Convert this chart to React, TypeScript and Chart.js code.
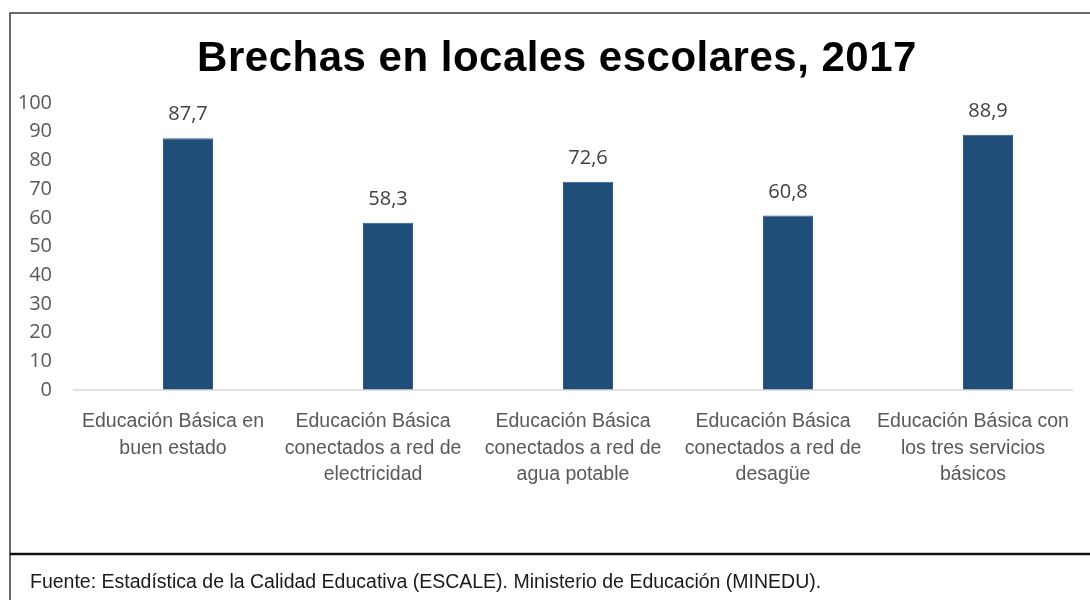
import React, { useEffect, useRef } from "react";
import { Chart, registerables } from "chart.js";

Chart.register(...registerables);

const TITLE = "Brechas en locales escolares, 2017";
const SOURCE = "Fuente: Estadística de la Calidad Educativa (ESCALE). Ministerio de Educación (MINEDU).";
const categories: string[][] = [
  ["Educación Básica en", "buen estado"],
  ["Educación Básica", "conectados a red de", "electricidad"],
  ["Educación Básica", "conectados a red de", "agua potable"],
  ["Educación Básica", "conectados a red de", "desagüe"],
  ["Educación Básica con", "los tres servicios", "básicos"],
];
const values: number[] = [87.7, 58.3, 72.6, 60.8, 88.9];
const yTicks = { min: 0, max: 100, step: 10 };

const BAR_COLOR = "#1F4E79";
const LABEL_SHIFT = 15;

const framePlugin = {
  id: "frame",
  beforeDraw(chart: any) {
    const ctx = chart.ctx;
    ctx.save();
    ctx.fillStyle = "#ffffff";
    ctx.fillRect(0, 0, chart.width, chart.height);
    ctx.restore();
  },
  afterDraw(chart: any) {
    const ctx = chart.ctx;
    const area = chart.chartArea;
    ctx.save();
    // outer frame
    ctx.strokeStyle = "#3a3a3a";
    ctx.lineWidth = 1.5;
    ctx.beginPath();
    ctx.moveTo(10, chart.height);
    ctx.lineTo(10, 13);
    ctx.lineTo(chart.width, 13);
    ctx.stroke();
    // separator above source
    ctx.strokeStyle = "#111111";
    ctx.lineWidth = 2.5;
    ctx.beginPath();
    ctx.moveTo(10, 554);
    ctx.lineTo(chart.width, 554);
    ctx.stroke();
    // baseline
    ctx.strokeStyle = "#d9d9d9";
    ctx.lineWidth = 1.5;
    ctx.beginPath();
    ctx.moveTo(area.left - LABEL_SHIFT, area.bottom);
    ctx.lineTo(area.right - LABEL_SHIFT, area.bottom);
    ctx.stroke();
    // title
    ctx.fillStyle = "#000000";
    ctx.font = "bold 42px 'Liberation Sans', Arial, sans-serif";
    (ctx as any).letterSpacing = "0.5px";
    ctx.textAlign = "center";
    ctx.textBaseline = "alphabetic";
    ctx.fillText(TITLE, 557, 71);
    (ctx as any).letterSpacing = "0px";
    // source
    ctx.fillStyle = "#1a1a1a";
    ctx.font = "19.5px 'Liberation Sans', Arial, sans-serif";
    ctx.textAlign = "left";
    ctx.fillText(SOURCE, 30, 588);
    // value labels
    const meta = chart.getDatasetMeta(0);
    ctx.fillStyle = "#404040";
    ctx.font = "20px 'Open Sans', sans-serif";
    ctx.textAlign = "center";
    meta.data.forEach((bar: any, i: number) => {
      const txt = values[i].toFixed(1).replace(".", ",");
      ctx.fillText(txt, bar.x, bar.y - 18);
    });
    ctx.restore();
  },
};

export default function App() {
  const ref = useRef<HTMLCanvasElement | null>(null);
  useEffect(() => {
    if (!ref.current) return;
    const chart = new Chart(ref.current, {
      type: "bar",
      data: {
        labels: categories,
        datasets: [
          {
            data: values,
            backgroundColor: BAR_COLOR,
            borderColor: "#2c5d8a",
            borderWidth: 1,
            barPercentage: 0.25,
            categoryPercentage: 1,
          },
        ],
      },
      options: {
        responsive: false,
        animation: false,
        layout: { padding: { top: 103, right: 2, bottom: 0, left: 0 } },
        plugins: {
          legend: { display: false },
          title: { display: false },
          tooltip: { enabled: false },
        },
        scales: {
          x: {
            grid: { display: false, drawTicks: false },
            border: { display: false },
            ticks: {
              color: "#595959",
              font: { family: "'Liberation Sans', Arial, sans-serif", size: 19.5, lineHeight: 1.36 },
              padding: 18.5,
              labelOffset: -LABEL_SHIFT,
              maxRotation: 0,
              autoSkip: false,
            },
            afterFit(scale: any) {
              scale.height = 210;
              scale.paddingLeft = 0;
              scale.paddingRight = 0;
            },
          },
          y: {
            min: yTicks.min,
            max: yTicks.max,
            grid: { display: false, drawTicks: false },
            border: { display: false },
            ticks: {
              stepSize: yTicks.step,
              color: "#595959",
              font: { family: "'Open Sans', sans-serif", size: 20 },
              padding: 36,
            },
            afterFit(scale: any) {
              scale.width = 88;
              scale.paddingTop = 0;
              scale.paddingBottom = 0;
            },
          },
        },
      },
      plugins: [framePlugin],
    });
    return () => chart.destroy();
  }, []);
  return (
    <div style={{ position: "fixed", left: 0, top: 0, width: 1090, height: 600, background: "#fff" }}>
      <canvas ref={ref} width={1090} height={600} style={{ width: 1090, height: 600, display: "block" }} />
    </div>
  );
}
